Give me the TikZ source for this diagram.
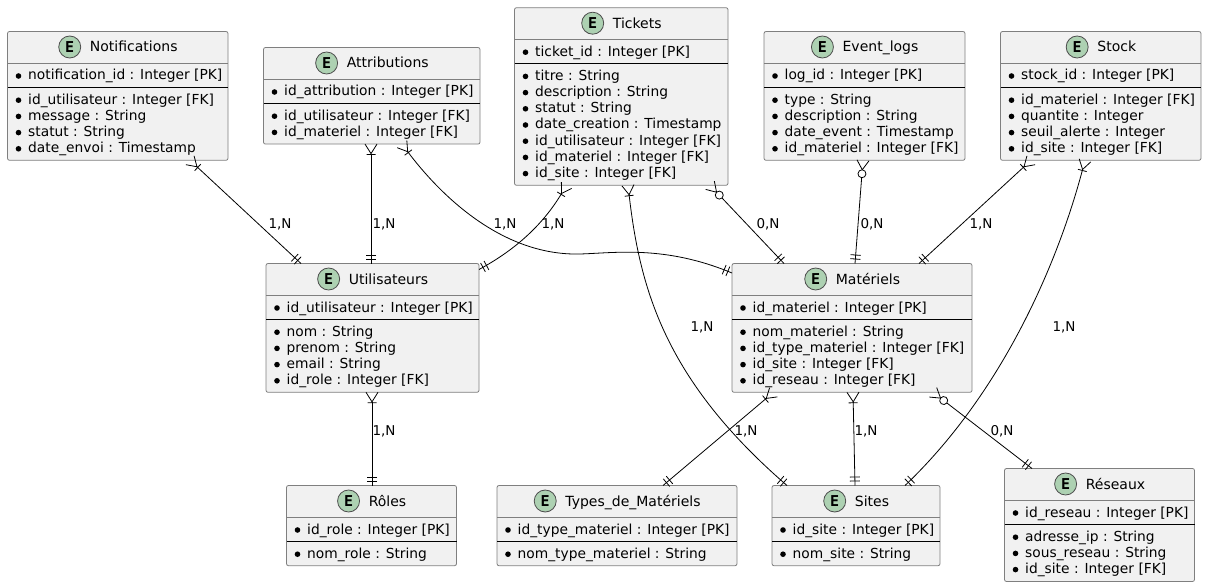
\documentclass[tikz,border=0pt]{standalone}
\usepackage{fontspec}
\setmainfont{DejaVu Sans}
\newfontfamily\markfont{DejaVu Sans Mono}
\usepackage{tikz}
\usetikzlibrary{arrows.meta}

\definecolor{boxfill}{HTML}{F1F1F1}
\definecolor{boxline}{HTML}{7F7F7F}
\definecolor{markfill}{HTML}{ADD1B2}

\pgfdeclarearrow{
	name=crowone,
	setup code={\pgfarrowssettipend{0pt}\pgfarrowssetlineend{-9.5pt}\pgfarrowssetbackend{-11pt}\pgfarrowssetvisualbackend{-11pt}},
	drawing code={
		\pgfsetdash{}{0pt}
		\pgfpathmoveto{\pgfqpoint{0pt}{6pt}}\pgfpathlineto{\pgfqpoint{-9.5pt}{0pt}}\pgfpathlineto{\pgfqpoint{0pt}{-6pt}}
		\pgfpathmoveto{\pgfqpoint{-10.5pt}{4.5pt}}\pgfpathlineto{\pgfqpoint{-10.5pt}{-4.5pt}}
		\pgfusepathqstroke
	}
}
\pgfdeclarearrow{
	name=crowzero,
	setup code={\pgfarrowssettipend{0pt}\pgfarrowssetlineend{-17.5pt}\pgfarrowssetbackend{-18pt}\pgfarrowssetvisualbackend{-18pt}},
	drawing code={
		\pgfsetdash{}{0pt}
		\pgfpathmoveto{\pgfqpoint{0pt}{6pt}}\pgfpathlineto{\pgfqpoint{-9.5pt}{0pt}}\pgfpathlineto{\pgfqpoint{0pt}{-6pt}}
		\pgfusepathqstroke
		\pgfsetfillcolor{white}
		\pgfpathcircle{\pgfqpoint{-13.5pt}{0pt}}{4pt}
		\pgfusepathqfillstroke
	}
}
\pgfdeclarearrow{
	name=onlyone,
	setup code={\pgfarrowssettipend{0pt}\pgfarrowssetlineend{0pt}\pgfarrowssetbackend{-9pt}\pgfarrowssetvisualbackend{-9pt}},
	drawing code={
		\pgfsetdash{}{0pt}
		\pgfpathmoveto{\pgfqpoint{-4.5pt}{5pt}}\pgfpathlineto{\pgfqpoint{-4.5pt}{-5pt}}
		\pgfpathmoveto{\pgfqpoint{-8.5pt}{5pt}}\pgfpathlineto{\pgfqpoint{-8.5pt}{-5pt}}
		\pgfusepathqstroke
	}
}

\tikzset{
	entity/.style={draw=boxline, fill=boxfill, rounded corners=2pt, inner sep=0pt, outer sep=0pt, line width=0.8pt},
	markE/.style={circle, draw=black!70, fill=markfill, minimum size=22pt, inner sep=0pt, line width=0.8pt, font=\markfont\fontsize{15}{15}\selectfont\bfseries},
	dot/.style={circle, fill=black, minimum size=5.6pt, inner sep=0pt},
	title/.style={anchor=base, inner sep=0pt, font=\fontsize{14}{16}\selectfont},
	attr/.style={anchor=base west, inner sep=0pt, font=\fontsize{13.8}{16}\selectfont},
	card/.style={inner sep=0pt, font=\fontsize{13.5}{16}\selectfont},
	many/.style={-, line width=0.8pt, arrows=crowone-onlyone},
	maybe/.style={-, line width=0.8pt, arrows=crowzero-onlyone}
}

% id, left, top, width, height, title, key, fields
\newcommand{\entbox}[8]{
	\node[entity, anchor=north west, minimum width=#4pt, minimum height=#5pt] (#1) at (#2,#3) {};
	\node[title] (#1-t) at ([xshift=16pt,yshift=-20.5pt]#1.north) {#6};
	\node[markE] (#1-e) at ([xshift=-20pt,yshift=5pt]#1-t.base west) {E};
	\draw[boxline, line width=0.8pt] ([yshift=-31.5pt]#1.north west) -- ([yshift=-31.5pt]#1.north east);
	\node[dot] (#1-kd) at ([xshift=11pt,yshift=-44.5pt]#1.north west) {};
	\node[attr] (#1-k) at ([xshift=20.5pt,yshift=-48.5pt]#1.north west) {#7};
	\draw[black, line width=0.8pt] ([yshift=-56pt]#1.north west) -- ([yshift=-56pt]#1.north east);
	\foreach \fieldtxt [count=\i] in {#8} {
		\pgfmathsetmacro\rowy{72.7+16.2*(\i-1)}
		\node[dot] (#1-d\i) at ([xshift=11pt,yshift=-\rowy pt+4pt]#1.north west) {};
		\node[attr] (#1-f\i) at ([xshift=20.5pt,yshift=-\rowy pt]#1.north west) {\fieldtxt};
	}
}

\begin{document}
\begin{tikzpicture}[x=1pt, y=-1pt]
\useasboundingbox (0,0) rectangle (1207,588);

\entbox{notif}{7.5}{31.5}{220.5}{128.8}{Notifications}{notification\_id : Integer [PK]}
	{id\_utilisateur : Integer [FK], message : String, statut : String, date\_envoi : Timestamp}
\entbox{attrib}{263.5}{47.5}{216.5}{96.6}{Attributions}{id\_attribution : Integer [PK]}
	{id\_utilisateur : Integer [FK], id\_materiel : Integer [FK]}
\entbox{ticket}{514.5}{7.7}{213.5}{177.6}{Tickets}{ticket\_id : Integer [PK]}
	{titre : String, description : String, statut : String, date\_creation : Timestamp, id\_utilisateur : Integer [FK], id\_materiel : Integer [FK], id\_site : Integer [FK]}
\entbox{event}{764}{31.5}{201}{128.8}{Event\_logs}{log\_id : Integer [PK]}
	{type : String, description : String, date\_event : Timestamp, id\_materiel : Integer [FK]}
\entbox{stock}{1000.5}{31.5}{200.5}{128.8}{Stock}{stock\_id : Integer [PK]}
	{id\_materiel : Integer [FK], quantite : Integer, seuil\_alerte : Integer, id\_site : Integer [FK]}
\entbox{util}{266}{263.5}{213}{128.8}{Utilisateurs}{id\_utilisateur : Integer [PK]}
	{nom : String, prenom : String, email : String, id\_role : Integer [FK]}
\entbox{mat}{732}{263.5}{240}{128.8}{Matériels}{id\_materiel : Integer [PK]}
	{nom\_materiel : String, id\_type\_materiel : Integer [FK], id\_site : Integer [FK], id\_reseau : Integer [FK]}
\entbox{role}{286.5}{485.5}{170}{80.2}{Rôles}{id\_role : Integer [PK]}
	{nom\_role : String}
\entbox{types}{497}{485.5}{240}{80.2}{Types\_de\_Matériels}{id\_type\_materiel : Integer [PK]}
	{nom\_type\_materiel : String}
\entbox{site}{772}{485.5}{168}{80.2}{Sites}{id\_site : Integer [PK]}
	{nom\_site : String}
\entbox{reseau}{1004.5}{468.5}{190}{113}{Réseaux}{id\_reseau : Integer [PK]}
	{adresse\_ip : String, sous\_reseau : String, id\_site : Integer [FK]}

\draw[many] ([xshift=182.5pt]notif.south west) -- ([xshift=35pt]util.north west);
\draw[many] ([xshift=107.5pt]attrib.south west) -- ([xshift=105pt]util.north west);
\draw[many] ([xshift=138.5pt]attrib.south west) .. controls +(36,48) and (500,256) .. (580,254)
	.. controls (615,253) and (665,245) .. ([yshift=-9.5pt]mat.north west);
\draw[many] ([xshift=52pt]ticket.south west) .. controls +(-24,40) and (515,250) .. ([yshift=-6pt]util.north east);
\draw[many] ([xshift=113.5pt]ticket.south west) .. controls +(12,104) and (665,380) .. ([xshift=15pt]site.north west);
\draw[maybe] ([xshift=195.5pt]ticket.south west) -- ([xshift=52pt]mat.north west);
\draw[maybe] ([xshift=99pt]event.south west) -- ([xshift=123pt]mat.north west);
\draw[many] ([xshift=30.5pt]stock.south west) -- ([xshift=187pt]mat.north west);
\draw[many] ([xshift=84.5pt]stock.south west) .. controls +(-27,102) and (1003,392) .. ([xshift=-35pt]site.north east);
\draw[many] ([xshift=106pt]util.south west) -- ([xshift=85.5pt]role.north west);
\draw[many] ([xshift=41.5pt]mat.south west) -- ([xshift=166pt]types.north west);
\draw[many] ([xshift=121pt]mat.south west) -- ([xshift=83pt]site.north west);
\draw[maybe] ([xshift=201pt]mat.south west) -- ([xshift=27.5pt]reseau.north west);

\node[card] (c1) at (280,224) {1,N};
\node[card] (c2) at (384,224) {1,N};
\node[card] (c3) at (505,224) {1,N};
\node[card] (c4) at (553,224) {1,N};
\node[card] (c5) at (768,224) {0,N};
\node[card] (c6) at (872,224) {0,N};
\node[card] (c7) at (981,224) {1,N};
\node[card] (c8) at (702,327) {1,N};
\node[card] (c9) at (1064,327) {1,N};
\node[card] (c10) at (384,431) {1,N};
\node[card] (c11) at (746,431) {1,N};
\node[card] (c12) at (866,431) {1,N};
\node[card] (c13) at (1002,431) {0,N};
\end{tikzpicture}
\end{document}
